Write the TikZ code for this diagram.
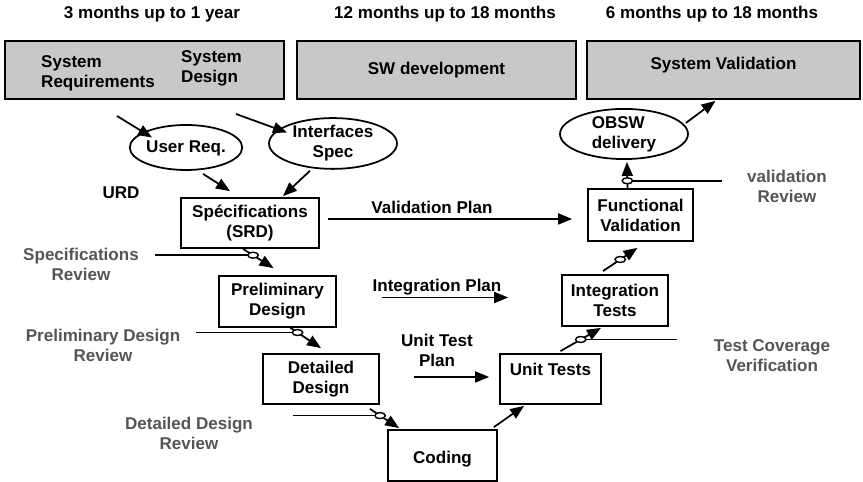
\documentclass[tikz,border=0pt]{standalone}
\usepackage{fontspec}
\setmainfont{Liberation Sans}
\usetikzlibrary{arrows.meta,positioning,calc,shapes.geometric}
\definecolor{Phase}{HTML}{C8C8C8}
\definecolor{Review}{HTML}{555555}
\tikzset{
  phase/.style={draw,line width=1pt,fill=Phase,minimum height=1.16cm,inner sep=0pt},
  stage/.style={draw,line width=1pt,fill=white,align=center,inner sep=0pt},
  doc/.style={ellipse,draw,line width=1pt,align=center,inner sep=0pt},
  arrow/.style={-{Triangle[length=2.8mm,width=2.2mm]},line width=1pt},
  revline/.style={line width=1pt},
  revdot/.style={ellipse,draw,line width=0.8pt,fill=white,minimum width=0.21cm,minimum height=0.12cm,inner sep=0pt},
  revtext/.style={text=Review,align=center},
  plan/.style={align=center}
}

\begin{document}
\begin{tikzpicture}[x=0.02cm,y=0.02cm,font=\fontsize{9.7}{11.4}\selectfont\bfseries]
  \useasboundingbox (0,0) rectangle (863,482);
  % durations
  \node (dur1) at (152,468) {3 months up to 1 year};
  \node (dur2) at (445,468) {12 months up to 18 months};
  \node (dur3) at (712,468) {6 months up to 18 months};
  % phases
  \node[phase,minimum width=5.58cm] (sysphase) at (144.5,412) {};
  \node[anchor=west,align=left] (sysreq) at (35,409) {System\\Requirements};
  \node[anchor=west,align=left] (sysdes) at (175,414) {System\\Design};
  \node[phase,minimum width=5.58cm] (swdev) at (436.5,412) {SW development};
  \node[phase,minimum width=5.46cm,text depth=0.25cm] (sysval) at (723.5,412) {System Validation};
  % documents
  \node[doc,minimum width=2.16cm,minimum height=0.9cm,text depth=0.05cm] (ureq) at (186,334.5) {User Req.};
  \node[doc,minimum width=2.56cm,minimum height=0.9cm] (ifspec) at (333,338.5) {Interfaces\\Spec};
  \node[doc,minimum width=2.56cm,minimum height=0.84cm,align=left] (obsw) at (624,348) {OBSW\\delivery};
  \node (urd) at (121,289) {URD};
  % V stages
  \node[stage,minimum width=2.76cm,minimum height=1.0cm] (srd) at (250,259) {Spécifications\\(SRD)};
  \node[stage,minimum width=2.34cm,minimum height=1.02cm] (prel) at (277.5,180.5) {Preliminary\\Design};
  \node[stage,minimum width=2.32cm,minimum height=1.0cm] (det) at (321,103) {Detailed\\Design};
  \node[stage,minimum width=2.18cm,minimum height=1.02cm] (code) at (442.5,26.5) {\mbox{}\\Coding};
  \node[stage,minimum width=2.02cm,minimum height=1.0cm] (unit) at (550.5,103) {Unit Tests\\\mbox{}};
  \node[stage,minimum width=2.12cm,minimum height=1.02cm] (integ) at (615,181.5) {Integration\\Tests};
  \node[stage,minimum width=2.1cm,minimum height=1.04cm] (func) at (640.5,267) {Functional\\Validation};
  % plans
  \node[plan] (vplan) at (432,275) {Validation Plan};
  \node[plan] (iplan) at (437,195) {Integration Plan};
  \node[plan] (utplan) at (437,132) {Unit Test\\Plan};
  % reviews
  \node[revtext] (srev) at (81,218) {Specifications\\Review};
  \node[revtext] (prrev) at (103,137) {Preliminary Design\\Review};
  \node[revtext] (dtrev) at (189,49) {Detailed Design\\Review};
  \node[revtext] (vrev) at (787,296) {validation\\Review};
  \node[revtext] (tcov) at (772,126) {Test Coverage\\Verification};
  % inputs
  \coordinate (ureqin) at (117,366);
  \coordinate (ifspecin) at (236,368);
  \draw[arrow] (ureqin) -- ($(ureq.center)+(-34,10)$);
  \draw[arrow] (ifspecin) -- ($(ifspec.center)+(-46,11)$);
  \draw[arrow] ($(ureq.south)+(17,-3)$) -- ($(srd.north)+(-20,6)$);
  \draw[arrow] ($(ifspec.south)+(-23,-1)$) -- ($(srd.north)+(33,1)$);
  % left branch
  \draw[arrow] ($(srd.south)+(-7,0)$) -- ($(prel.north)+(-4,7)$) coordinate[pos=.33] (m1);
  \draw[arrow] ($(prel.south)+(13,0)$) -- ($(det.north)+(0,5)$) coordinate[pos=.23] (m2);
  \draw[arrow] ($(det.south east)+(-10,-4)$) -- ($(code.north west)+(12,1)$) coordinate[pos=.35] (m3);
  % right branch
  \draw[arrow] ($(code.north east)+(-4,2)$) -- ($(unit.south west)+(25,-1)$);
  \draw[arrow] ($(unit.north)+(10,2)$) -- ($(integ.south)+(-14,-1)$) coordinate[pos=.5] (m5);
  \draw[arrow] ($(integ.north)+(-12,3)$) -- ($(func.south)+(-3,-6)$) coordinate[pos=.5] (m6);
  \draw[arrow] ($(func.north)+(-13,0)$) -- ($(obsw.south)+(3,-2)$) coordinate[pos=.28] (m7);
  \draw[arrow] ($(obsw.east)+(-3,11)$) -- ($(sysval.south)+(-8,-1)$);
  % plan arrows
  \draw[arrow] ($(srd.east)+(8,4)$) -- ($(func.west)+(-15,-4)$);
  \draw[arrow] ($(prel.east)+(45,4)$) -- ($(integ.west)+(-53,3)$);
  \draw[arrow] ($(det.east)+(34,2)$) -- ($(unit.west)+(-10,2)$);
  % review lines
  \draw[revline] (m1) -- ++(-98,0);
  \draw[revline] (m2) -- ++(-102,0);
  \draw[revline] (m3) -- ++(-87,0);
  \draw[revline] (m5) -- ++(96,0);
  \draw[revline] (m7) -- ++(95,0);
  \foreach \m in {m1,m2,m3,m5,m6,m7}
    \node[revdot] (\m dot) at (\m) {};
\end{tikzpicture}
\end{document}
